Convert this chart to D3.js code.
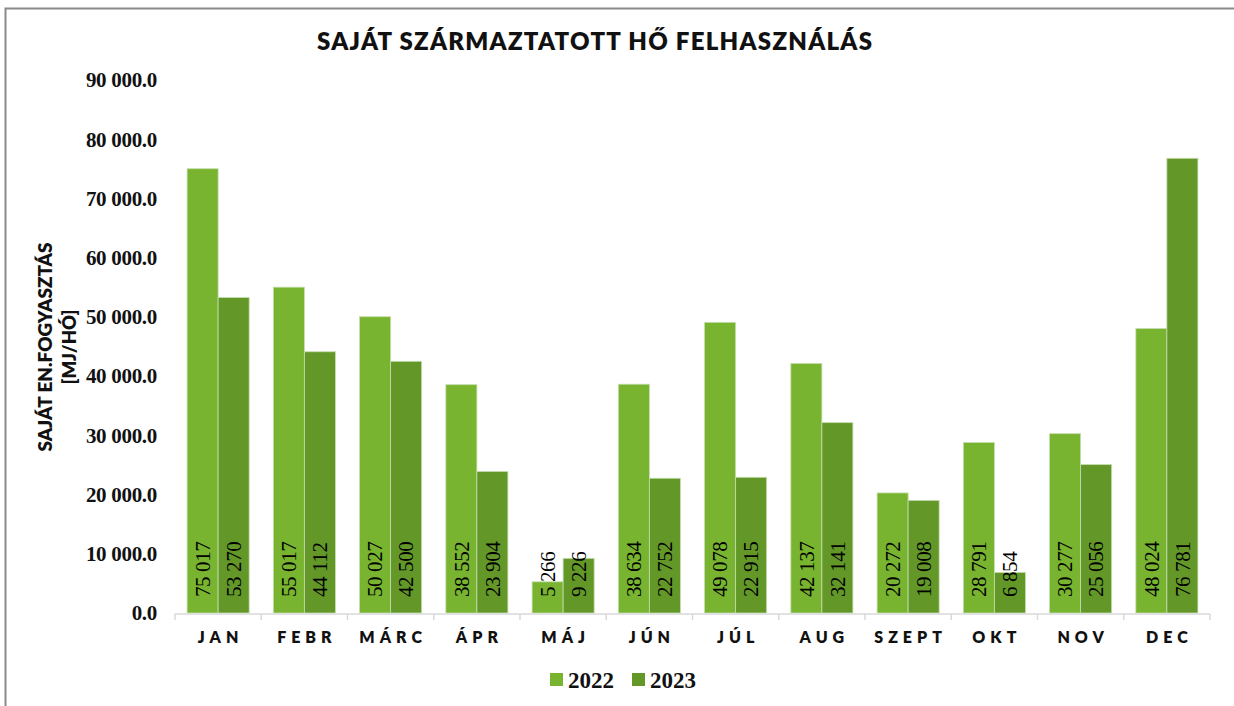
<!DOCTYPE html>
<html>
<head>
<meta charset="utf-8">
<script src="https://cdn.jsdelivr.net/npm/d3@7"></script>
<style>
  body { margin: 0; background: #fff; }
  svg { display: block; }
</style>
</head>
<body>
<svg id="chart" width="1234" height="706"></svg>
<script>
const months = ['JAN', 'FEBR', 'MÁRC', 'ÁPR', 'MÁJ', 'JÚN', 'JÚL', 'AUG', 'SZEPT', 'OKT', 'NOV', 'DEC'];
const series = ['2022', '2023'];
const values2022 = [75017, 55017, 50027, 38552, 5266, 38634, 49078, 42137, 20272, 28791, 30277, 48024];
const values2023 = [53270, 44112, 42500, 23904, 9226, 22752, 22915, 32141, 19008, 6854, 25056, 76781];
const yTicks = [0, 10000, 20000, 30000, 40000, 50000, 60000, 70000, 80000, 90000];
const colors = { '2022': '#78b42f', '2023': '#639829' };

const svg = d3.select('#chart');
const sansBold = 'Lato, "DejaVu Sans", sans-serif';
const serif = '"Liberation Serif", "Times New Roman", serif';

// chart frame (cut off on the right and bottom)
svg.append('rect')
  .attr('x', 5.5).attr('y', 8.5)
  .attr('width', 1260).attr('height', 720)
  .attr('fill', 'none')
  .attr('stroke', '#8a8a8a')
  .attr('stroke-width', 2);

const plot = { left: 175, right: 1210, top: 80, bottom: 613 };

const x0 = d3.scaleBand().domain(months).range([plot.left, plot.right]).padding(0);
const x1 = d3.scaleBand().domain(series).range([0, x0.bandwidth()]).paddingInner(0).paddingOuter(0.39);
const y = d3.scaleLinear().domain([0, 90000]).range([plot.bottom, plot.top]);

const rows = months.map((m, i) => ({ month: m, vals: [
  { key: '2022', v: values2022[i] },
  { key: '2023', v: values2023[i] }
] }));

// title
svg.append('text')
  .attr('x', 317).attr('y', 50)
  .attr('textLength', 555)
  .attr('lengthAdjust', 'spacing')
  .style('font-family', sansBold)
  .style('font-weight', 800)
  .style('font-size', '24px')
  .style('fill', '#111')
  .text('SAJÁT SZÁRMAZTATOTT HŐ FELHASZNÁLÁS');

// y axis labels
const fmt = v => d3.format(',.1f')(v).replace(/,/g, ' ');
svg.append('g').selectAll('text')
  .data(yTicks)
  .join('text')
  .attr('x', 157)
  .attr('y', d => y(d))
  .attr('dy', '0.35em')
  .attr('text-anchor', 'end')
  .style('font-family', serif)
  .style('font-weight', 700)
  .style('font-size', '21px')
  .style('letter-spacing', '-0.3px')
  .style('fill', '#111')
  .text(fmt);

// y axis title
const yTitle = svg.append('g').attr('transform', 'translate(0,347) rotate(-90)');
yTitle.append('text')
  .attr('x', -104.5).attr('y', 52)
  .attr('textLength', 209)
  .attr('lengthAdjust', 'spacingAndGlyphs')
  .style('font-family', sansBold)
  .style('font-weight', 800)
  .style('font-size', '18px')
  .style('fill', '#111')
  .text('SAJÁT EN.FOGYASZTÁS');
yTitle.append('text')
  .attr('x', -37.5).attr('y', 76)
  .attr('textLength', 75)
  .attr('lengthAdjust', 'spacingAndGlyphs')
  .style('font-family', sansBold)
  .style('font-weight', 800)
  .style('font-size', '18px')
  .style('fill', '#111')
  .text('[MJ/HÓ]');

// bars
const groups = svg.append('g').selectAll('g')
  .data(rows)
  .join('g')
  .attr('transform', d => `translate(${x0(d.month)},0)`);

groups.selectAll('rect')
  .data(d => d.vals)
  .join('rect')
  .attr('x', d => x1(d.key))
  .attr('y', d => y(d.v))
  .attr('width', x1.bandwidth())
  .attr('height', d => y(0) - y(d.v))
  .attr('fill', d => colors[d.key])
  .attr('stroke', '#c5dcae')
  .attr('stroke-width', 0.8);

groups.selectAll('text')
  .data(d => d.vals)
  .join('text')
  .attr('transform', d => `translate(${x1(d.key) + x1.bandwidth() / 2},597) rotate(-90)`)
  .attr('dy', '0.35em')
  .style('font-family', serif)
  .style('font-size', '21px')
  .style('letter-spacing', '-0.4px')
  .style('fill', '#000')
  .text(d => d3.format(',')(d.v).replace(/,/g, ' '));

// x axis line and ticks
const axis = svg.append('g');
axis.append('line')
  .attr('x1', plot.left).attr('x2', plot.right)
  .attr('y1', plot.bottom + 1).attr('y2', plot.bottom + 1)
  .attr('stroke', '#d9d9d9').attr('stroke-width', 1.5);
axis.selectAll('line.tick')
  .data(months.map(m => x0(m)).concat([plot.right]))
  .join('line')
  .attr('class', 'tick')
  .attr('x1', d => d).attr('x2', d => d)
  .attr('y1', plot.bottom + 1).attr('y2', plot.bottom + 7)
  .attr('stroke', '#d9d9d9').attr('stroke-width', 1.5);

// month labels with wide letter spacing
axis.selectAll('text')
  .data(months)
  .join('text')
  .attr('x', d => x0(d) + x0.bandwidth() / 2 + 2.5)
  .attr('y', 643)
  .attr('text-anchor', 'middle')
  .style('font-family', sansBold)
  .style('font-weight', 800)
  .style('font-size', '16px')
  .style('letter-spacing', '5px')
  .style('fill', '#111')
  .text(d => d);

// legend
const legend = svg.append('g');
const legendX = [550, 632];
series.forEach((s, i) => {
  legend.append('rect')
    .attr('x', legendX[i]).attr('y', 673)
    .attr('width', 13).attr('height', 13)
    .attr('fill', colors[s]);
  legend.append('text')
    .attr('x', legendX[i] + 18).attr('y', 688)
    .style('font-family', serif)
    .style('font-weight', 700)
    .style('font-size', '23px')
    .style('fill', '#111')
    .text(s);
});
</script>
</body>
</html>
